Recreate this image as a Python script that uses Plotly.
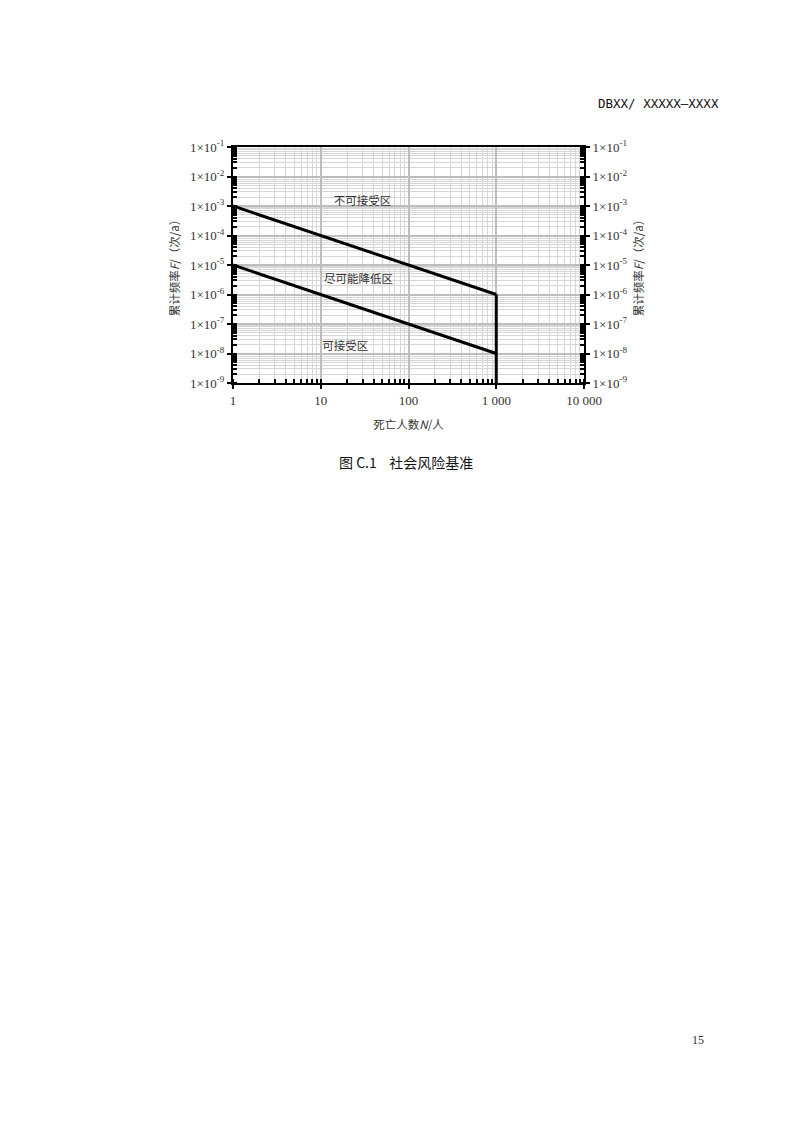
import plotly.graph_objects as go

# Data
n_upper = [1, 1000]
f_upper = [1e-3, 1e-6]
n_lower = [1, 1000]
f_lower = [1e-5, 1e-8]
n_limit = [1000, 1000]
f_limit = [1e-6, 1e-9]

x_tickvals = [1, 10, 100, 1000, 10000]
x_ticktext = ["1", "10", "100", "1 000", "10 000"]
y_exps = [-1, -2, -3, -4, -5, -6, -7, -8, -9]
y_tickvals = [10 ** e for e in y_exps]
y_ticktext = ["1×10<sup>%d</sup>" % e for e in y_exps]

zones = ["不可接受区", "尽可能降低区", "可接受区"]
zone_n = [30, 27, 19]
zone_f = [1.4e-3, 3.1e-6, 1.7e-8]

# page offsets (body margin of 8px)
OX, OY = 8, 8
PL, PT, PW, PH = 233 - OX, 147 - OY, 351, 236

FONT = "Noto Sans CJK SC"
SERIF = "Liberation Serif, Noto Sans CJK SC"
line_style = dict(color="black", width=3)

fig = go.Figure()
fig.add_trace(go.Scatter(x=n_upper, y=f_upper, mode="lines", line=line_style, showlegend=False))
fig.add_trace(go.Scatter(x=n_lower, y=f_lower, mode="lines", line=line_style, showlegend=False))
fig.add_trace(go.Scatter(x=n_limit, y=f_limit, mode="lines", line=line_style, showlegend=False))
fig.add_trace(go.Scatter(x=zone_n, y=zone_f, mode="text", text=zones,
                         textfont=dict(family=FONT, size=11.5, color="#333"),
                         showlegend=False))
# invisible trace to anchor right axis
fig.add_trace(go.Scatter(x=[1], y=[1e-5], yaxis="y2", mode="markers",
                         marker=dict(opacity=0), showlegend=False, hoverinfo="skip"))

grid_minor = dict(showgrid=True, gridcolor="#d6d6d6", gridwidth=1,
                  ticks="inside", ticklen=4, tickcolor="black", dtick="D1")

axis_common = dict(type="log", showline=True, linecolor="black", linewidth=2,
                   gridcolor="#bdbdbd", gridwidth=1.5, ticks="outside", ticklen=4,
                   tickcolor="black", tickwidth=1.5,
                   tickfont=dict(family=SERIF, size=13, color="#333"),
                   zeroline=False)

title_font = dict(family=FONT, size=11.5, color="#333")

fig.update_layout(
    width=793, height=1122,
    margin=dict(l=PL, r=793 - PL - PW, t=PT, b=1122 - PT - PH),
    paper_bgcolor="white", plot_bgcolor="white",
    xaxis=dict(**axis_common, range=[0, 4], tickvals=x_tickvals, ticktext=x_ticktext,
               mirror=True, minor=grid_minor,
               title=dict(text="死亡人数<i>N</i>/人", font=title_font, standoff=14)),
    yaxis=dict(**axis_common, range=[-9, -1], tickvals=y_tickvals, ticktext=y_ticktext,
               minor=grid_minor,
               title=dict(text="累计频率<i>F</i>/（次/a）", font=title_font, standoff=8)),
    yaxis2=dict(type="log", range=[-9, -1], overlaying="y", side="right", showgrid=False,
                showline=True, linecolor="black", linewidth=2, ticks="outside", ticklen=4,
                tickcolor="black", tickwidth=1.5, tickvals=y_tickvals, ticktext=y_ticktext,
                tickfont=dict(family=SERIF, size=13, color="#333"),
                minor=dict(ticks="inside", ticklen=4, tickcolor="black", dtick="D1", showgrid=False),
                zeroline=False,
                title=dict(text="累计频率<i>F</i>/（次/a）", font=title_font, standoff=8)),
)


def px(xp):
    return (xp - OX - PL) / PW


def py(yp):
    return (PT + PH - (yp - OY)) / PH


fig.add_annotation(text="DBXX/ XXXXX—XXXX", xref="paper", yref="paper",
                   x=px(721), y=py(103), xanchor="right", yanchor="middle",
                   showarrow=False, font=dict(family="DejaVu Sans Mono", size=12.5, color="#111"))
fig.add_annotation(text="图 C.1    社会风险基准", xref="paper", yref="paper",
                   x=px(406), y=py(462), xanchor="center", yanchor="middle",
                   showarrow=False, font=dict(family=FONT, size=14, color="#111"))
fig.add_annotation(text="15", xref="paper", yref="paper",
                   x=px(706), y=py(1040), xanchor="right", yanchor="middle",
                   showarrow=False, font=dict(family="Liberation Serif", size=12, color="#333"))

fig.write_html("out.html")
